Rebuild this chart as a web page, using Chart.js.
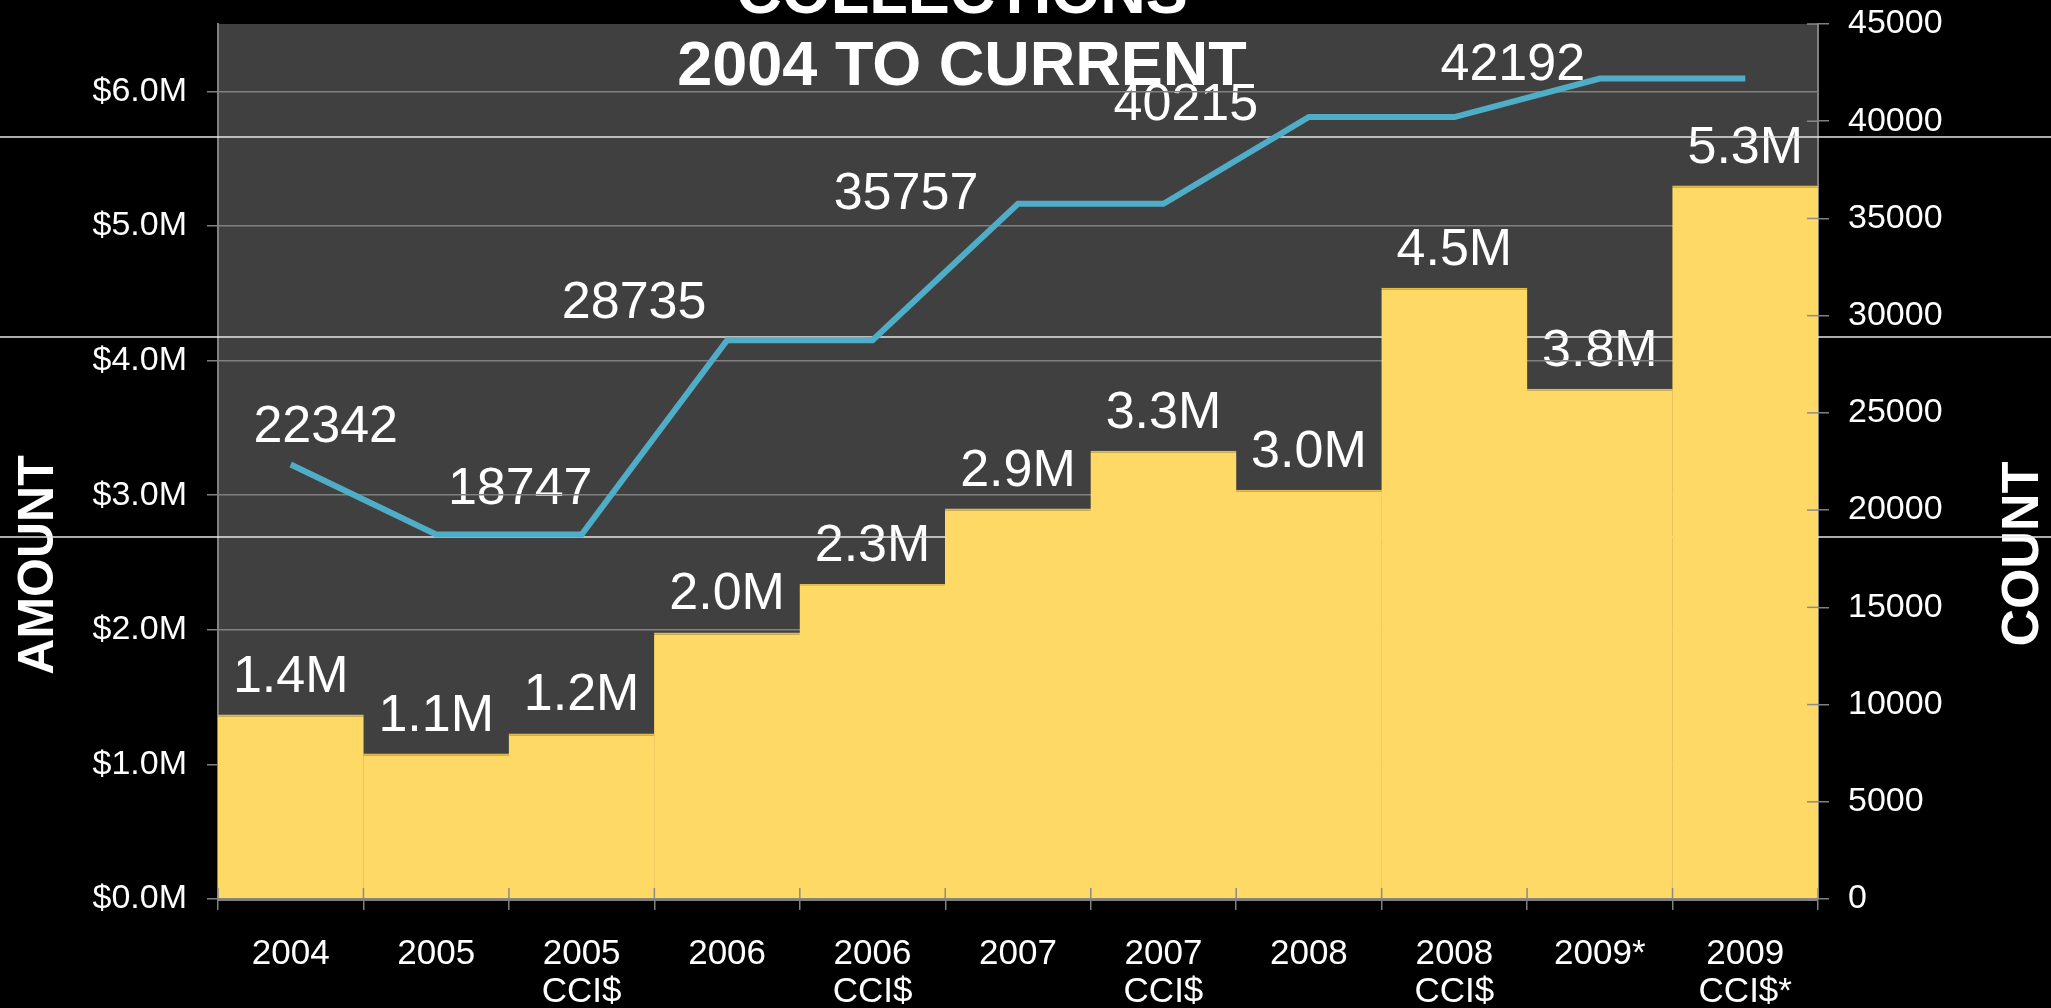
<!DOCTYPE html>
<html>
<head>
<meta charset="utf-8">
<script src="https://cdn.jsdelivr.net/npm/chart.js@4.4.1/dist/chart.umd.min.js"></script>
<style>
  html, body { margin: 0; padding: 0; background: #000; }
</style>
</head>
<body>
<canvas id="chart" width="2051" height="1008"></canvas>
<script>
// chart values
const categories = [['2004'], ['2005'], ['2005', 'CCI$'], ['2006'], ['2006', 'CCI$'], ['2007'],
  ['2007', 'CCI$'], ['2008'], ['2008', 'CCI$'], ['2009*'], ['2009', 'CCI$*']];
const amounts = [1.37, 1.08, 1.23, 1.98, 2.34, 2.90, 3.33, 3.04, 4.54, 3.79, 5.30]; // $M
const counts = [22342, 18747, 18747, 28735, 28735, 35757, 35757, 40215, 40215, 42192, 42192];
const countLabelIdx = [0, 1, 3, 5, 7, 9];
const titleLines = ['COLLECTIONS', '2004 TO CURRENT'];

const FONT = '"Liberation Sans", Arial, sans-serif';

const deco = {
  id: 'deco',
  beforeDraw(chart, args, o) {
    const { ctx, chartArea: a, scales } = chart;
    ctx.save();
    ctx.fillStyle = '#000';
    ctx.fillRect(0, 0, chart.width, chart.height);
    ctx.fillStyle = '#404040';
    ctx.fillRect(a.left, a.top, a.right - a.left, a.bottom - a.top);

    // value labels sit under the grid, like in the slide
    ctx.fillStyle = '#fff';
    ctx.font = '52px ' + FONT;
    ctx.textAlign = 'center';
    ctx.textBaseline = 'alphabetic';
    amounts.forEach((v, i) => {
      ctx.fillText(v.toFixed(1) + 'M', scales.x.getPixelForValue(i), scales.y.getPixelForValue(v) - 23);
    });
    countLabelIdx.forEach((i, k) => {
      const off = o.countOffsets[k];
      ctx.fillText(String(counts[i]), scales.x.getPixelForValue(i) + off[0],
        scales.y1.getPixelForValue(counts[i]) + off[1]);
    });

    // axis titles, both read bottom to top
    ctx.textBaseline = 'middle';
    o.axisTitles.forEach(t => {
      ctx.save();
      ctx.font = 'bold ' + t.size + 'px ' + FONT;
      ctx.translate(t.x, t.y);
      ctx.rotate(-Math.PI / 2);
      ctx.fillText(t.text, 0, 0);
      ctx.restore();
    });
    ctx.restore();
  },
  beforeDatasetsDraw(chart, args, o) {
    // thin white rules left over from the slide
    const ctx = chart.ctx;
    ctx.save();
    ctx.strokeStyle = '#e6e6e6';
    ctx.lineWidth = 1.5;
    o.rules.forEach(y => {
      ctx.beginPath();
      ctx.moveTo(0, y);
      ctx.lineTo(chart.width, y);
      ctx.stroke();
    });
    ctx.restore();
  },
  afterDatasetsDraw(chart) {
    // tick marks crossing into the plot
    const { ctx, chartArea: a, scales } = chart;
    ctx.save();
    ctx.strokeStyle = '#8a8a8a';
    ctx.lineWidth = 1.5;
    const step = (a.right - a.left) / categories.length;
    for (let i = 0; i <= categories.length; i++) {
      const x = a.left + i * step;
      ctx.beginPath();
      ctx.moveTo(x, a.bottom - 11);
      ctx.lineTo(x, a.bottom);
      ctx.stroke();
    }
    scales.y1.ticks.forEach(t => {
      const y = scales.y1.getPixelForValue(t.value);
      ctx.beginPath();
      ctx.moveTo(a.right - 11, y);
      ctx.lineTo(a.right, y);
      ctx.stroke();
    });
    ctx.restore();
  },
  afterDraw(chart, args, o) {
    const ctx = chart.ctx;
    ctx.save();
    ctx.fillStyle = '#fff';
    ctx.font = 'bold 63px ' + FONT;
    ctx.textAlign = 'center';
    ctx.textBaseline = 'alphabetic';
    titleLines.forEach((s, i) => ctx.fillText(s, o.titleX, o.titleY[i]));
    ctx.restore();
  }
};

const gridGray = '#808080';

function noPad(s) {
  s.paddingTop = 0;
  s.paddingBottom = 0;
  s.paddingLeft = 0;
  s.paddingRight = 0;
}

new Chart(document.getElementById('chart'), {
  type: 'bar',
  data: {
    labels: categories,
    datasets: [
      {
        type: 'line',
        data: counts,
        yAxisID: 'y1',
        borderColor: '#4FADC8',
        borderWidth: 6,
        pointRadius: 0,
        tension: 0,
        order: 1
      },
      {
        type: 'bar',
        data: amounts,
        yAxisID: 'y',
        backgroundColor: '#FFD966',
        borderColor: '#E3BC4E',
        borderWidth: { top: 2, left: 0, right: 0, bottom: 0 },
        barPercentage: 1.004,
        categoryPercentage: 1,
        order: 2
      }
    ]
  },
  options: {
    responsive: false,
    animation: false,
    layout: { padding: { top: 24, left: 0, right: 0, bottom: 0 } },
    plugins: {
      legend: { display: false },
      tooltip: { enabled: false },
      deco: {
        countOffsets: [[35, -23], [84, -30], [-93, -22], [-112, 5], [-123, 3], [-87, 1]],
        axisTitles: [
          { text: 'AMOUNT', x: 39, y: 565, size: 50 },
          { text: 'COUNT', x: 2024, y: 554, size: 52 }
        ],
        rules: [137, 337, 537],
        titleX: 962,
        titleY: [13, 85]
      }
    },
    scales: {
      x: {
        grid: { drawOnChartArea: false, tickLength: 11, color: gridGray, lineWidth: 1.5, offset: true },
        border: { color: gridGray, width: 3 },
        ticks: {
          color: '#fff', padding: 25, maxRotation: 0, autoSkip: false,
          font: { family: FONT, size: 35, lineHeight: 1.1 }
        },
        afterFit(s) { s.height = 109; noPad(s); }
      },
      y: {
        position: 'left',
        min: 0,
        max: 6.5,
        ticks: {
          stepSize: 1, color: '#fff', padding: 20,
          font: { family: FONT, size: 34 },
          callback: v => '$' + v.toFixed(1) + 'M'
        },
        afterBuildTicks(s) { s.ticks = s.ticks.filter(t => Number.isInteger(t.value)); },
        grid: { color: gridGray, lineWidth: 1.5, tickLength: 11 },
        border: { color: gridGray, width: 2 },
        afterFit(s) { s.width = 218; noPad(s); }
      },
      y1: {
        position: 'right',
        min: 0,
        max: 45000,
        ticks: {
          stepSize: 5000, color: '#fff', padding: 19,
          font: { family: FONT, size: 34 },
          callback: v => String(v)
        },
        grid: { drawOnChartArea: false, tickLength: 11, color: gridGray, lineWidth: 1.5 },
        border: { color: gridGray, width: 2 },
        afterFit(s) { s.width = 233; noPad(s); }
      }
    }
  },
  plugins: [deco]
});
</script>
</body>
</html>
